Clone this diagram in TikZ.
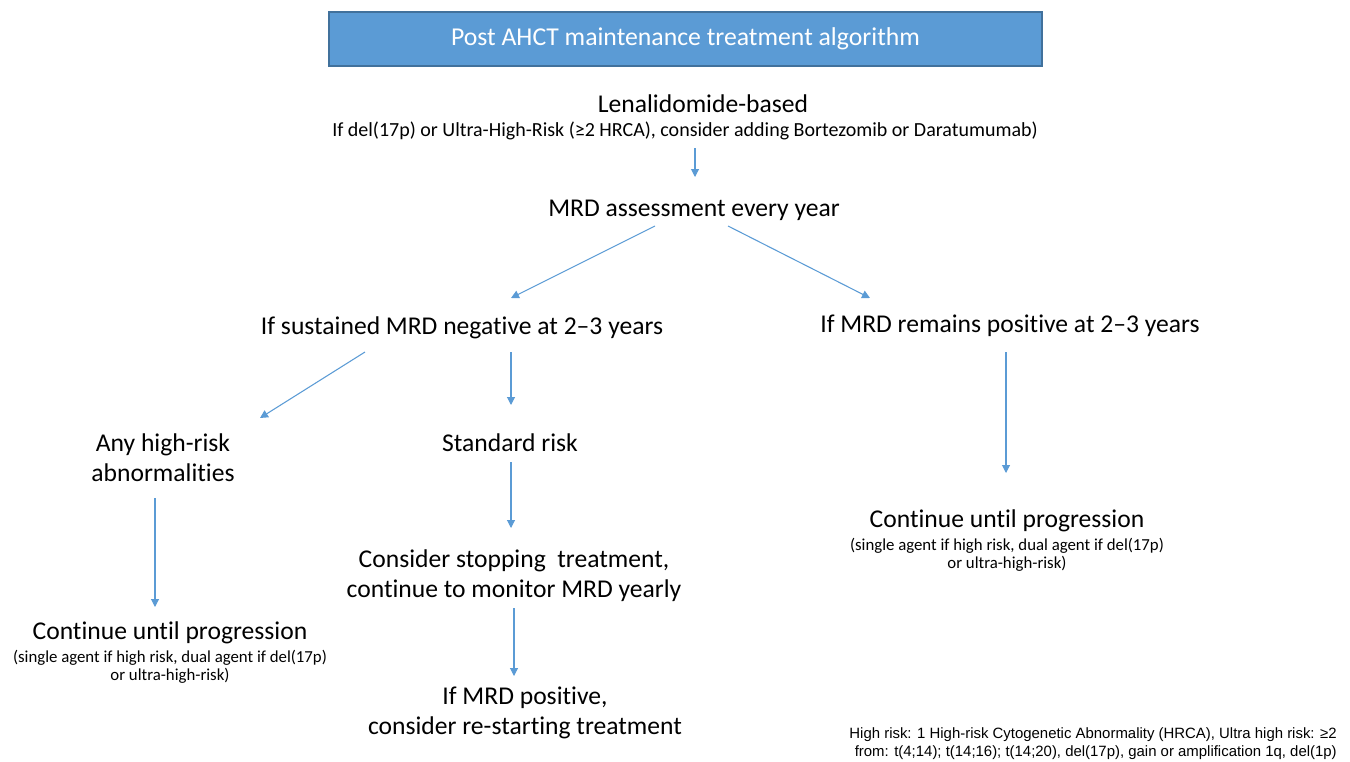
\documentclass[tikz,border=0pt]{standalone}
\usepackage{fontspec}
\setmainfont{Carlito}[Ligatures={NoCommon}]
\newfontfamily\arialf{Liberation Sans}
\usetikzlibrary{arrows.meta}
\definecolor{boxfill}{HTML}{5B9BD5}
\definecolor{boxline}{HTML}{41719C}
\definecolor{arrc}{HTML}{5B9BD5}
\tikzset{
  main/.style={inner sep=0pt, align=center, yshift=-1.5pt, font=\fontsize{19.2}{22.5}\selectfont},
  sub/.style={inner sep=0pt, align=center, yshift=-1pt, font=\fontsize{15}{17}\selectfont},
  subs/.style={inner sep=0pt, align=center, yshift=-0.8pt, font=\fontsize{12.6}{13.5}\selectfont},
  arr/.style={draw=arrc, line width=0.8pt, -{Triangle[length=6pt,width=6pt]}},
}
\begin{document}
\begin{tikzpicture}[x=0.75pt,y=-0.75pt]
\useasboundingbox (0,0) rectangle (1350,761);
\node[draw=boxline, fill=boxfill, line width=0.8pt, minimum width=713*0.75pt, minimum height=54*0.75pt, inner sep=0pt, text=white, font=\fontsize{19.3}{22}\selectfont] (title) at (685.5,39) {\raisebox{-1.5pt}{Post AHCT maintenance treatment algorithm}};
\node[main] (len) at (703,102) {Lenalidomide-based};
\node[sub] (lensub) at (685,130) {If del(17p) or Ultra-High-Risk (≥2 HRCA), consider adding Bortezomib or Daratumumab)};
\node[main] (mrd) at (694,208) {MRD assessment every year};
\node[main] (neg) at (462,326) {If sustained MRD negative at 2–3 years};
\node[main] (pos) at (1010,324) {If MRD remains positive at 2–3 years};
\node[main] (hr) at (163,456) {Any high-risk\\abnormalities};
\node[main] (sr) at (510,441) {Standard risk};
\node[main] (stop) at (514,574) {Consider stopping\ \ treatment,\\continue to monitor MRD yearly};
\node[main] (restart) at (525,711) {If MRD positive,\\consider re-starting treatment};
\node[main] (cl) at (170,631) {Continue until progression};
\node[subs] (clsub) at (170,666) {(single agent if high risk, dual agent if del(17p)\\or ultra-high-risk)};
\node[main] (cr) at (1007,519) {Continue until progression};
\node[subs] (crsub) at (1007,554) {(single agent if high risk, dual agent if del(17p)\\or ultra-high-risk)};
\node[inner sep=0pt, align=right, anchor=east, font=\arialf\fontsize{11.2}{13.5}\selectfont] (foot) at (1337,744) {High risk: 1 High-risk Cytogenetic Abnormality (HRCA), Ultra high risk: ≥2\\from: t(4;14); t(14;16); t(14;20), del(17p), gain or amplification 1q, del(1p)};
% connector end points
\coordinate (a1s) at (695,148); \coordinate (a1e) at (695,177);
\coordinate (a2s) at (655,226); \coordinate (a2e) at (511,298);
\coordinate (a3s) at (728,226); \coordinate (a3e) at (870,298);
\coordinate (a4s) at (365,352); \coordinate (a4e) at (260,418);
\coordinate (a5s) at (511,352); \coordinate (a5e) at (511,405);
\coordinate (a6s) at (1006,352); \coordinate (a6e) at (1006,473);
\coordinate (a7s) at (155,498); \coordinate (a7e) at (155,607);
\coordinate (a8s) at (511,462); \coordinate (a8e) at (511,528);
\coordinate (a9s) at (514,608); \coordinate (a9e) at (514,676);
\draw[arr] (a1s) -- (a1e);
\draw[arr] (a2s) -- (a2e);
\draw[arr] (a3s) -- (a3e);
\draw[arr] (a4s) -- (a4e);
\draw[arr] (a5s) -- (a5e);
\draw[arr] (a6s) -- (a6e);
\draw[arr] (a7s) -- (a7e);
\draw[arr] (a8s) -- (a8e);
\draw[arr] (a9s) -- (a9e);
\end{tikzpicture}
\end{document}
